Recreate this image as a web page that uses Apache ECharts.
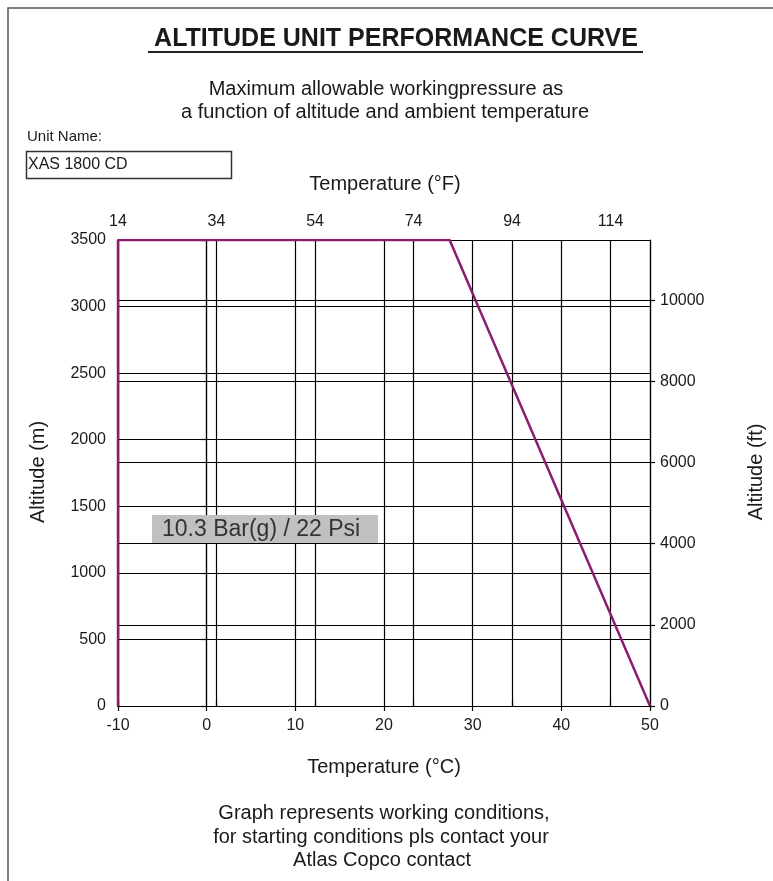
<!DOCTYPE html>
<html>
<head>
<meta charset="utf-8">
<script src="https://cdn.jsdelivr.net/npm/echarts@6/dist/echarts.min.js"></script>
<style>
html,body{margin:0;padding:0;background:#fff;}
#chart{width:773px;height:881px;}
</style>
</head>
<body>
<div id="chart"></div>
<script>
// ---- Data ----
const tempC = [-10, -10, 27.4, 50];          // curve temperature (°C)
const altM = [0, 3500, 3500, 0];             // curve altitude (m)
const cTicksMin = -10, cTicksMax = 50, cInterval = 10;
const mMin = 0, mMax = 3500, mInterval = 500;
const fTicks = [14, 34, 54, 74, 94, 114];    // top axis tick labels (°F)
const ftTicks = [0, 2000, 4000, 6000, 8000, 10000]; // right axis tick labels (ft)
const fMin = 14, fMax = 122;                 // °F range matching -10..50 °C
const ftMax = 3500 * 3.28084;                // ft range matching 0..3500 m

const titleText = 'ALTITUDE UNIT PERFORMANCE CURVE';
const subtitleLines = ['Maximum allowable workingpressure as', 'a function of altitude and ambient temperature'];
const footLines = ['Graph represents working conditions,', 'for starting conditions pls contact your', 'Atlas Copco contact'];
const unitLabel = 'Unit Name:';
const unitName = 'XAS 1800 CD';
const pressureLabel = '10.3 Bar(g) / 22 Psi';

const FONT = "'Liberation Sans', Arial, sans-serif";
const TXT = '#1a1a1a';
const LINE = '#8b1d6f';

const chart = echarts.init(document.getElementById('chart'), null, {renderer: 'canvas'});

const gridLine = {show: true, lineStyle: {color: '#000', width: 1.2}};
const axLine = {show: true, lineStyle: {color: '#000', width: 1.2}};
const tick = {show: true, length: 5, lineStyle: {color: '#000', width: 1.2}};
const fmt = (v) => String(Math.round(v));
const lab = (m) => ({fontSize: 16, color: TXT, fontFamily: FONT, margin: m, formatter: fmt});

function txt(x, y, s, size, opt) {
  return Object.assign({
    type: 'text', x: x, y: y, z: 100,
    style: {text: s, font: size + 'px ' + FONT, fill: TXT, textAlign: 'center', textVerticalAlign: 'middle'}
  }, opt || {});
}

const option = {
  backgroundColor: '#fff',
  animation: false,
  grid: {left: 118, right: 123, top: 240, bottom: 175, containLabel: false},
  xAxis: [
    {type: 'value', position: 'bottom', min: cTicksMin, max: cTicksMax, interval: cInterval,
     axisLine: axLine, axisTick: tick, axisLabel: lab(12), splitLine: gridLine},
    {type: 'value', position: 'top', min: fMin, max: fMax,
     axisLine: axLine,
     axisTick: Object.assign({}, tick, {customValues: fTicks}),
     axisLabel: Object.assign(lab(10), {customValues: fTicks}),
     splitLine: gridLine}
  ],
  yAxis: [
    {type: 'value', position: 'left', min: mMin, max: mMax, interval: mInterval,
     axisLine: axLine, axisTick: Object.assign({}, tick, {length: 6}), axisLabel: lab(12), splitLine: gridLine},
    {type: 'value', position: 'right', min: 0, max: ftMax,
     axisLine: axLine,
     axisTick: Object.assign({}, tick, {customValues: ftTicks}),
     axisLabel: Object.assign(lab(10), {customValues: ftTicks}),
     splitLine: gridLine}
  ],
  series: [{
    type: 'line', xAxisIndex: 0, yAxisIndex: 0, z: 10,
    data: tempC.map((t, i) => [t, altM[i]]),
    symbol: 'none', lineStyle: {color: LINE, width: 2.5}, silent: true
  }],
  graphic: [
    {type: 'polyline', z: 100, shape: {points: [[8, 881], [8, 8], [773, 8]]}, style: {stroke: '#555', lineWidth: 1.5, fill: null}},
    txt(396, 39, titleText, 25, {style: {text: titleText, font: 'bold 25px ' + FONT, fill: TXT, textAlign: 'center', textVerticalAlign: 'middle'}}),
    {type: 'line', z: 100, shape: {x1: 148, y1: 52, x2: 643, y2: 52}, style: {stroke: '#222', lineWidth: 2}},
    txt(386, 89, subtitleLines[0], 20),
    txt(385, 112, subtitleLines[1], 20),
    txt(27, 137, unitLabel, 15, {style: {text: unitLabel, font: '15px ' + FONT, fill: TXT, textAlign: 'left', textVerticalAlign: 'middle'}}),
    {type: 'rect', z: 100, shape: {x: 26.5, y: 151.5, width: 205, height: 27}, style: {stroke: '#333', lineWidth: 1.5, fill: '#fff'}},
    txt(28, 165, unitName, 16, {z: 101, style: {text: unitName, font: '16px ' + FONT, fill: TXT, textAlign: 'left', textVerticalAlign: 'middle'}}),
    txt(385, 184, 'Temperature (°F)', 20),
    txt(384, 767, 'Temperature (°C)', 20),
    txt(38, 472, 'Altitude (m)', 20, {rotation: Math.PI / 2}),
    txt(756, 472, 'Altitude (ft)', 20, {rotation: Math.PI / 2}),
    {type: 'rect', z: 100, shape: {x: 152, y: 515, width: 226, height: 28}, style: {fill: '#c0c0c0'}},
    txt(162, 530, pressureLabel, 23, {z: 101, style: {text: pressureLabel, font: '23px ' + FONT, fill: '#333', textAlign: 'left', textVerticalAlign: 'middle'}}),
    txt(384, 813, footLines[0], 20),
    txt(381, 837, footLines[1], 20),
    txt(382, 860, footLines[2], 20)
  ]
};
chart.setOption(option);
</script>
</body>
</html>
